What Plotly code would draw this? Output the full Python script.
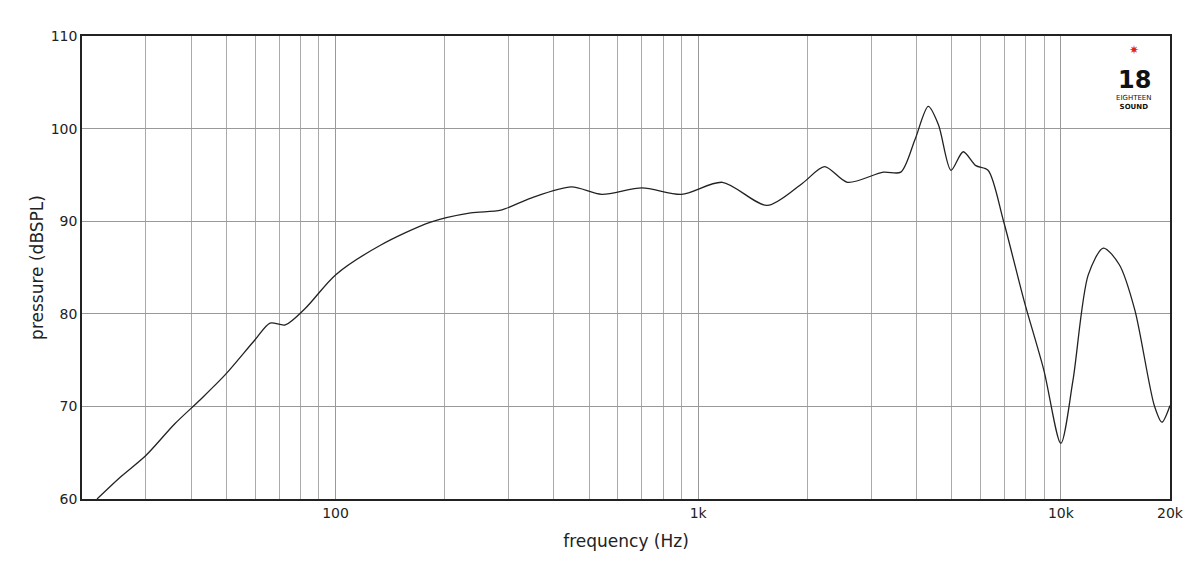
import plotly.graph_objects as go

freq = [22, 25.4, 30, 36, 42.3, 49.6, 60, 66, 72.7, 82.6, 100, 133, 183, 236, 286, 346,
        447, 542, 700, 900, 1166, 1550, 1940, 2230, 2580, 3240, 3620, 3960, 4310, 4600,
        4980, 5380, 5830, 6300, 6940, 7920, 8980, 10000, 10800, 11900, 13100, 14500,
        16000, 18100, 19000, 20000]
spl = [60, 62.3, 64.7, 68.1, 70.7, 73.4, 77.2, 79.0, 78.8, 80.6, 84.2, 87.4, 89.9, 90.9,
       91.2, 92.5, 93.7, 92.9, 93.6, 92.9, 94.2, 91.7, 94.1, 95.9, 94.2, 95.3, 95.3, 98.8,
       102.4, 100.4, 95.5, 97.5, 96.0, 95.5, 90.1, 81.4, 73.9, 66.0, 72.8, 84.2, 87.1,
       85.3, 80.4, 70.1, 68.3, 70.1]

tick_vals = [100, 1000, 10000, 20000]
tick_text = ["100", "1k", "10k", "20k"]
minor_vals = [m * d for d in (10, 100, 1000) for m in range(2, 10)] + [10000 * m for m in range(1, 3)]

fig = go.Figure(go.Scatter(x=freq, y=spl, mode="lines",
                           line=dict(color="#222", width=1.3, shape="spline", smoothing=0.8),
                           showlegend=False))

# page body adds ~8px offset, so margins compensate
fig.update_layout(
    width=1200, height=570,
    margin=dict(l=74, r=38, t=28, b=79),
    paper_bgcolor="white", plot_bgcolor="white",
    font=dict(family="DejaVu Sans", size=14, color="#222"),
)
fig.update_xaxes(type="log", range=[1.301, 4.301], tickvals=tick_vals, ticktext=tick_text,
                 automargin=False, tickfont=dict(size=14),
                 showgrid=True, gridcolor="#999", gridwidth=1,
                 minor=dict(tickvals=minor_vals, showgrid=True, gridcolor="#aaa", gridwidth=1),
                 showline=True, linecolor="#222", linewidth=1.5, mirror=True, ticks="",
                 title=dict(text="frequency (Hz)", standoff=16))
fig.update_yaxes(range=[60, 110], dtick=10, showgrid=True, gridcolor="#999", gridwidth=1,
                 automargin=False, tickfont=dict(size=14),
                 showline=True, linecolor="#222", linewidth=1.5, mirror=True, ticks="",
                 zeroline=False, title=dict(text="pressure (dBSPL)", standoff=3))

fig.add_annotation(x=0.967, y=0.94, xref="paper", yref="paper", text="<b>18</b>",
                   showarrow=False, font=dict(size=24, color="#111"), xanchor="center")
fig.add_annotation(x=0.967, y=0.88, xref="paper", yref="paper", text="EIGHTEEN<br><b>SOUND</b>",
                   showarrow=False, font=dict(size=7, color="#111"), xanchor="center")
fig.add_annotation(x=0.967, y=0.99, xref="paper", yref="paper", text="✷",
                   showarrow=False, font=dict(size=12, color="#d22"), xanchor="center")

fig.write_html("out.html")
